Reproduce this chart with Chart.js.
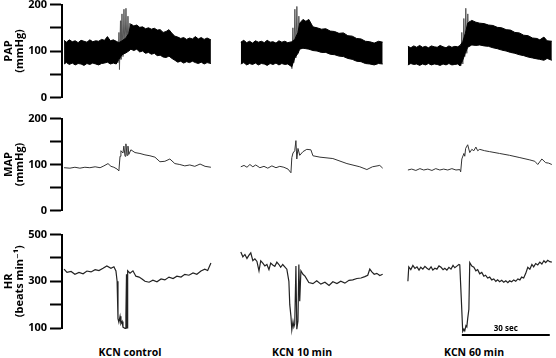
<!DOCTYPE html>
<html lang="en">
<head>
<meta charset="UTF-8">
<title>KCN - PAP, MAP, HR</title>
<script src="https://cdn.jsdelivr.net/npm/chart.js"></script>
<style>
  body { margin: 0; background: #fff; width: 556px; height: 358px; position: relative; overflow: hidden; }
  .panel { position: absolute; left: 0; }
  .panel canvas { display: block; }
  .cond { position: absolute; top: 345px; width: 120px; text-align: center; line-height: 12px;
          font: bold 10.5px "Open Sans", "DejaVu Sans", sans-serif; color: #000; }
</style>
</head>
<body>
<div class="panel" style="top:-5px"><canvas id="papChart" width="556" height="112"></canvas></div>
<div class="panel" style="top:109px"><canvas id="mapChart" width="556" height="111"></canvas></div>
<div class="panel" style="top:225px"><canvas id="hrChart" width="556" height="117"></canvas></div>
<div class="cond" style="left:70px">KCN control</div>
<div class="cond" style="left:242px">KCN 10 min</div>
<div class="cond" style="left:414px">KCN 60 min</div>

<script>
// time in seconds, pressures in mmHg, heart rate in beats/min

// PAP: upper / lower envelope of the pulsatile trace
const papT1 = [0.7, 1.5, 2.5, 3.5, 4.5, 5.5, 6.5, 7.5, 8.5, 9.5, 10.5, 11.5, 12.5, 13.5, 14.5, 15.5, 16.5, 17.5, 18.5,
               19.4, 20.5, 21.8, 22.8, 23.5, 24.5, 25.5, 26.5, 27.5, 28.5, 29.5, 30.5, 31.5, 32.5, 33.5, 34.5, 35.5, 36.5, 37.5, 38.5,
               39.5, 40.5, 41.5, 42.5, 43.5, 44.5, 45.5, 46.5, 47.5, 48.5, 49.5, 50.8];
const papTop1 = [123, 119, 124, 120, 122, 118, 123, 121, 119, 124, 120, 122, 121, 125, 123, 131, 122, 124, 121,
                 118, 122, 128, 138, 158, 154, 156, 151, 152, 148, 150, 147, 149, 145, 146, 140, 142, 146, 138, 132,
                 130, 127, 129, 125, 128, 126, 131, 126, 129, 125, 128, 124];
const papBot1 = [72, 75, 71, 74, 70, 73, 72, 69, 73, 71, 74, 72, 70, 73, 74, 76, 72, 74, 72,
                 82, 92, 96, 100, 104, 101, 104, 98, 100, 95, 97, 93, 95, 90, 91, 87, 86, 89, 84, 80,
                 76, 78, 74, 77, 75, 78, 75, 73, 76, 72, 75, 73];

const papT2 = [61.0, 62, 63, 64, 65, 66, 67, 68, 69, 70, 71, 72, 73, 74, 75, 76, 77, 78.4,
               79.4, 80.5, 81.1, 82.2, 83.2, 84.2, 85.6, 87, 88.5, 90, 91.5, 93, 94.5, 96, 97.5, 99, 100.5, 102, 103.5, 105, 106.5, 108, 109.4];
const papTop2 = [119, 123, 118, 121, 117, 122, 119, 121, 118, 123, 119, 120, 117, 122, 119, 121, 118, 120,
                 125, 140, 160, 168, 164, 168, 152, 150, 147, 148, 143, 142, 138, 139, 133, 132, 127, 126, 121, 120, 117, 121, 119];
const papBot2 = [72, 75, 70, 73, 71, 74, 70, 73, 72, 69, 73, 71, 74, 70, 73, 71, 72, 66,
                 85, 95, 104, 106, 105, 104, 101, 100, 97, 97, 93, 92, 89, 88, 84, 82, 78, 77, 73, 72, 70, 73, 72];

const papT3 = [118.0, 119, 120, 121, 122, 123, 124, 125, 126, 127, 128, 129, 130, 131, 132, 133, 134, 135, 135.8,
               136.7, 137.6, 138.4, 139.8, 141.2, 142.5, 144, 145.5, 147, 148.5, 150, 151.5, 153, 154.5, 156, 157.5, 159, 160.5, 162, 163, 164.4, 165.5, 167.1];
const papTop3 = [110, 107, 111, 108, 112, 108, 110, 107, 111, 109, 108, 112, 109, 107, 111, 108, 110, 109, 112,
                 120, 138, 160, 166, 162, 160, 159, 156, 155, 151, 150, 146, 145, 140, 139, 134, 133, 128, 127, 124, 130, 122, 121];
const papBot3 = [70, 73, 71, 72, 69, 72, 70, 73, 70, 72, 71, 69, 72, 70, 73, 70, 71, 72, 68,
                 80, 96, 108, 113, 112, 113, 111, 110, 107, 105, 102, 100, 97, 95, 92, 90, 87, 85, 83, 82, 80, 84, 80];

// PAP swings at the KCN injection
const spikeT1 = [18.75, 19.09, 19.43, 19.60, 19.95, 20.12, 20.46, 20.80, 21.14, 21.48, 21.82, 22.16, 22.50, 22.84, 23.18, 23.53];
const spikeP1 = [110, 75, 140, 60, 165, 82, 180, 88, 190, 95, 192, 100, 175, 110, 160, 120];
const spikeT2 = [78.08, 78.42, 78.76, 79.10, 79.44, 79.78, 80.12, 80.46, 80.80, 81.15, 81.49];
const spikeP2 = [95, 62, 150, 75, 190, 85, 196, 95, 175, 110, 160];
const spikeT3 = [135.70, 136.04, 136.38, 136.73, 137.07, 137.41, 137.75, 138.09, 138.43, 138.77, 139.11];
const spikeP3 = [100, 68, 140, 72, 170, 88, 192, 95, 180, 110, 165];

// MAP
const mapT1 = [0.7, 2.7, 4.4, 6.1, 7.8, 9.5, 11.3, 13.0, 14.3, 15.7, 16.7, 17.7, 18.8, 19.4, 19.8, 20.1, 20.8, 21.1, 21.5, 21.8, 22.2, 22.5, 22.8, 23.5, 24.9, 26.6, 28.3, 30.0, 31.7, 33.4, 35.1, 36.8, 38.5, 40.2, 41.9, 43.6, 45.3, 47.1, 48.8, 50.8];
const mapV1 = [93, 92, 94, 92, 94, 93, 95, 93, 97, 102, 96, 94, 90, 86, 118, 130, 125, 140, 118, 145, 120, 140, 122, 132, 126, 124, 121, 119, 116, 106, 107, 112, 102, 100, 97, 99, 96, 101, 96, 94];
const mapT2 = [61.0, 62.1, 63.1, 64.1, 65.1, 66.1, 67.5, 68.9, 70.2, 71.6, 73.0, 74.3, 75.7, 77.1, 78.1, 78.4, 78.8, 79.4, 79.8, 80.1, 80.5, 81.1, 82.2, 83.5, 84.9, 85.6, 88.0, 92.4, 97.2, 101.6, 104.0, 105.9, 108.4, 109.4];
const mapV2 = [95, 98, 94, 100, 95, 99, 93, 96, 92, 97, 93, 96, 94, 90, 82, 115, 125, 130, 152, 112, 135, 120, 128, 133, 132, 119, 116, 113, 102, 95, 89, 95, 98, 92];
const mapT3 = [118.0, 119.3, 120.7, 122.1, 123.4, 124.8, 126.2, 127.5, 128.9, 130.2, 131.6, 133.0, 134.4, 135.7, 136.0, 136.4, 137.1, 137.4, 137.7, 138.4, 139.1, 139.8, 140.5, 141.2, 141.8, 142.5, 144.2, 145.9, 149.3, 152.7, 156.2, 159.6, 161.3, 162.3, 163.7, 165.0, 166.0, 167.1];
const mapV3 = [88, 90, 87, 91, 88, 90, 87, 91, 88, 90, 88, 91, 88, 89, 84, 112, 124, 118, 135, 143, 126, 133, 130, 138, 130, 133, 130, 128, 124, 120, 115, 110, 107, 100, 112, 104, 103, 100];

// HR
const hrT1 = [0.7, 1.7, 3.1, 4.4, 5.8, 7.2, 8.5, 9.9, 11.3, 12.6, 14.0, 15.3, 16.7, 17.7, 18.4, 18.8, 19.1, 19.4, 19.8, 20.1, 20.5, 20.8, 21.5, 21.8, 22.0, 22.2, 22.4, 23.2, 24.2, 25.2, 26.3, 27.3, 28.3, 29.7, 31.0, 32.4, 33.8, 35.1, 36.5, 37.9, 39.2, 40.6, 41.9, 43.3, 44.7, 46.0, 47.4, 48.7, 49.7, 50.8];
const hrV1 = [352, 338, 342, 330, 338, 332, 344, 340, 350, 346, 356, 366, 356, 362, 344, 300, 140, 125, 150, 118, 128, 104, 98, 150, 330, 100, 345, 335, 345, 322, 318, 310, 300, 296, 305, 298, 310, 306, 318, 312, 322, 318, 330, 326, 336, 330, 344, 352, 346, 378];
const hrT2 = [61.0, 61.7, 62.4, 63.1, 63.8, 64.4, 65.1, 65.8, 66.5, 67.2, 67.8, 68.5, 69.2, 69.9, 70.6, 71.2, 71.9, 72.6, 73.3, 74.0, 74.6, 75.3, 76.0, 76.7, 77.4, 77.7, 78.1, 78.4, 78.8, 79.1, 79.4, 79.8, 80.1, 80.5, 80.8, 81.1, 81.5, 82.2, 82.9, 84.2, 85.6, 86.9, 88.3, 89.7, 91.1, 92.4, 93.8, 95.1, 96.5, 97.9, 99.2, 100.6, 102.0, 103.3, 104.3, 105.0, 105.7, 106.5, 107.4, 108.4, 109.4];
const hrV2 = [425, 405, 415, 398, 412, 422, 388, 396, 385, 345, 388, 378, 366, 372, 350, 378, 370, 364, 382, 372, 360, 372, 362, 352, 300, 200, 150, 92, 128, 105, 118, 366, 95, 130, 372, 215, 345, 330, 322, 295, 290, 302, 288, 296, 282, 298, 290, 300, 292, 304, 306, 312, 314, 320, 326, 352, 340, 330, 334, 325, 330];
const hrT3 = [118.0, 118.3, 119.0, 119.7, 120.4, 121.1, 121.8, 122.4, 123.1, 123.8, 124.5, 125.2, 125.9, 126.5, 127.2, 127.9, 128.6, 129.3, 130.0, 130.6, 131.3, 132.0, 132.7, 133.4, 134.0, 134.7, 135.4, 135.7, 136.2, 136.7, 137.1, 137.4, 137.8, 138.1, 138.4, 138.8, 139.1, 139.8, 140.5, 141.2, 141.8, 142.5, 143.2, 143.9, 144.5, 145.2, 145.9, 146.6, 147.3, 148.0, 148.6, 149.3, 150.0, 150.7, 151.4, 152.1, 152.7, 153.4, 154.1, 154.8, 155.5, 156.2, 156.8, 157.5, 158.2, 158.9, 159.6, 160.3, 160.9, 161.6, 162.3, 163.0, 163.7, 164.4, 165.0, 165.7, 166.4, 167.1];
const hrV3 = [300, 362, 350, 368, 355, 362, 348, 360, 352, 364, 356, 350, 362, 348, 356, 352, 366, 360, 350, 356, 348, 360, 352, 368, 358, 365, 372, 370, 230, 85, 95, 88, 110, 105, 140, 180, 380, 365, 360, 345, 350, 332, 338, 322, 326, 314, 318, 306, 310, 300, 306, 298, 304, 296, 302, 294, 302, 298, 306, 300, 310, 306, 318, 314, 334, 360, 352, 372, 362, 376, 370, 382, 374, 388, 380, 390, 384, 382];

// axis ticks
const pressureTicks = [0, 100, 200];
const hrTicks = [100, 300, 500];

// 30 s time bar
const barStart = 136.4;
const barLength = 30;

const FONT = '"Open Sans", "DejaVu Sans", sans-serif';

function pts(t, v) {
    return t.map((x, i) => ({ x: x, y: v[i] }));
}

function line(t, v, color, width) {
    return { data: pts(t, v), borderColor: color, borderWidth: width, fill: false, pointRadius: 0, tension: 0, clip: false };
}

function yScale(min, max, step, shown, title) {
    return {
        min: min,
        max: max,
        afterFit: function (scale) { scale.width = 62; },
        ticks: {
            stepSize: step,
            autoSkip: false,
            padding: 3,
            color: '#000',
            font: { family: FONT, size: 11, weight: 'bold' },
            callback: function (v) { return shown.indexOf(v) >= 0 ? String(v) : ''; }
        },
        grid: { drawOnChartArea: false, drawTicks: true, tickLength: 12, tickWidth: 2, tickColor: '#000' },
        border: { display: true, color: '#000', width: 2 },
        title: {
            display: true,
            text: title,
            color: '#000',
            padding: { top: 4, bottom: 0 },
            font: { family: FONT, size: 11, weight: 'bold', lineHeight: 0.95 }
        }
    };
}

function options(y, bottomPad) {
    return {
        responsive: false,
        animation: false,
        events: [],
        layout: { padding: { left: 0, right: 3, top: 8, bottom: bottomPad } },
        plugins: { legend: { display: false }, tooltip: { enabled: false } },
        scales: {
            x: { type: 'linear', display: false, min: 0, max: 167.5 },
            y: y
        }
    };
}

// PAP panel
const papSets = [];
[[papT1, papTop1, papBot1], [papT2, papTop2, papBot2], [papT3, papTop3, papBot3]].forEach(seg => {
    papSets.push(line(seg[0], seg[2], '#000', 1));
    const top = line(seg[0], seg[1], '#000', 1);
    top.fill = '-1';
    top.backgroundColor = '#000';
    papSets.push(top);
});
papSets.push(line(spikeT1, spikeP1, '#555', 1));
papSets.push(line(spikeT2, spikeP2, '#555', 1));
papSets.push(line(spikeT3, spikeP3, '#555', 1));

new Chart(document.getElementById('papChart'), {
    type: 'line',
    data: { datasets: papSets },
    options: options(yScale(0, 200, 50, pressureTicks, ['PAP', '(mmHg)']), 8)
});

// MAP panel
new Chart(document.getElementById('mapChart'), {
    type: 'line',
    data: { datasets: [
        line(mapT1, mapV1, '#333', 1),
        line(mapT2, mapV2, '#333', 1),
        line(mapT3, mapV3, '#333', 1)
    ] },
    options: options(yScale(0, 200, 50, pressureTicks, ['MAP', '(mmHg)']), 8)
});

// HR panel with the time bar
const timeBar = {
    id: 'timeBar',
    afterDraw(chart) {
        const ctx = chart.ctx;
        const x = chart.scales.x;
        const x0 = x.getPixelForValue(barStart);
        const x1 = x.getPixelForValue(barStart + barLength);
        const y = chart.chartArea.bottom + 7;
        ctx.save();
        ctx.strokeStyle = '#000';
        ctx.lineWidth = 2;
        ctx.beginPath();
        ctx.moveTo(x0, y);
        ctx.lineTo(x1, y);
        ctx.stroke();
        ctx.fillStyle = '#000';
        ctx.font = 'bold 8px ' + FONT;
        ctx.textAlign = 'center';
        ctx.textBaseline = 'bottom';
        ctx.fillText(barLength + ' sec', (x0 + x1) / 2, y - 2);
        ctx.restore();
    }
};

new Chart(document.getElementById('hrChart'), {
    type: 'line',
    data: { datasets: [
        line(hrT1, hrV1, '#222', 1.2),
        line(hrT2, hrV2, '#222', 1.2),
        line(hrT3, hrV3, '#222', 1.2)
    ] },
    options: options(yScale(100, 500, 100, hrTicks, ['HR', '(beats min\u207B\u00B9)']), 14),
    plugins: [timeBar]
});
</script>
</body>
</html>
